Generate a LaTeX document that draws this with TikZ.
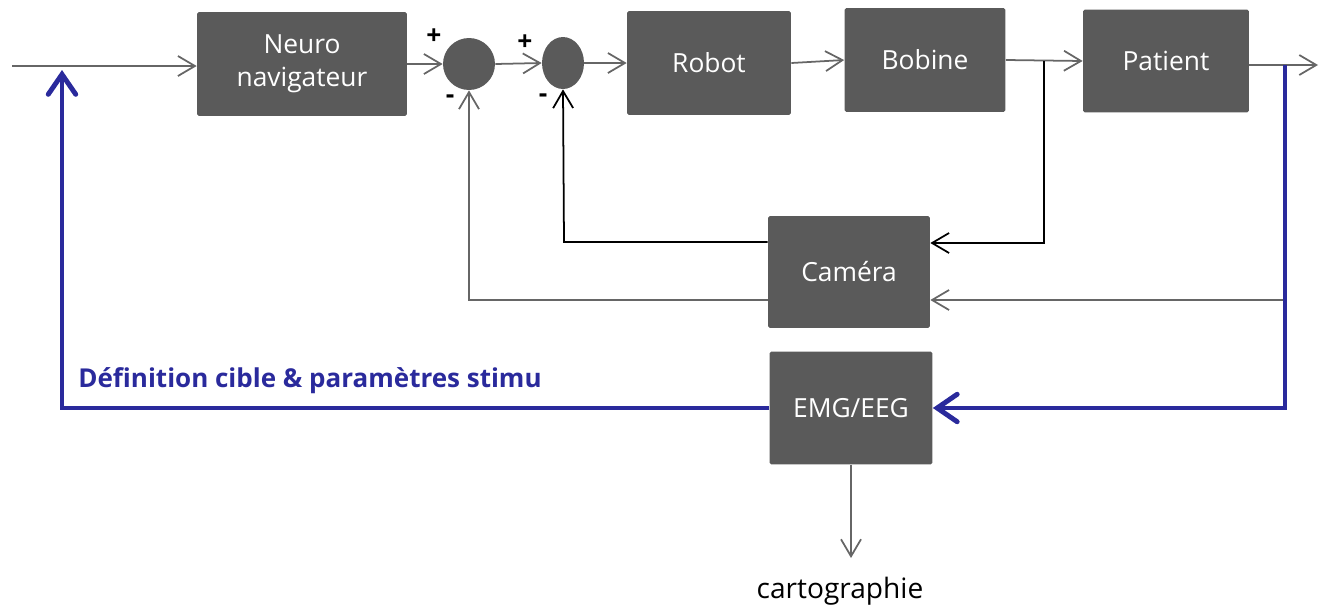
\documentclass[tikz,border=0pt]{standalone}
\usepackage{fontspec}
\setmainfont{Open Sans}
\usetikzlibrary{arrows.meta}
\usetikzlibrary{shapes.geometric}
\definecolor{blocgris}{HTML}{5A5A5A}
\definecolor{traitgris}{HTML}{666666}
\definecolor{stimbleu}{HTML}{2A2A9C}

\begin{document}
\begin{tikzpicture}[x=0.02cm, y=-0.02cm,
    bloc/.style={fill=blocgris, text=white, rounded corners=1pt, align=center, inner sep=0pt, font=\fontsize{15}{19}\selectfont},
    somme/.style={ellipse, fill=blocgris, inner sep=0pt},
    signe/.style={font=\fontsize{15}{15}\selectfont\bfseries},
    fleche/.style={traitgris, line width=1pt, -{Straight Barb[length=3.4mm, width=4mm]}},
    retour/.style={black, line width=1pt, -{Straight Barb[length=3.4mm, width=4mm]}},
    stimu/.style={stimbleu, line width=2.8pt, -{Straight Barb[length=4mm, width=5.5mm, line cap=round]}}]
    \useasboundingbox (0,0) rectangle (1319,606);

    \node[bloc, minimum width=4.2cm, minimum height=2.08cm] (neuro) at (302,64) {Neuro\\navigateur};
    \node[somme, minimum width=1.04cm, minimum height=1.04cm] (s1) at (469,64) {};
    \node[somme, minimum width=0.84cm, minimum height=1.04cm] (s2) at (563,63) {};
    \node[bloc, minimum width=3.28cm, minimum height=2.08cm] (robot) at (709,63) {Robot};
    \node[bloc, minimum width=3.22cm, minimum height=2.08cm] (bobine) at (925,60) {Bobine};
    \node[bloc, minimum width=3.32cm, minimum height=2.06cm] (patient) at (1166,61) {Patient};
    \node[bloc, minimum width=3.24cm, minimum height=2.24cm] (camera) at (849,272) {Caméra};
    \node[bloc, minimum width=3.26cm, minimum height=2.26cm] (emg) at (851,408) {EMG/EEG};

    \node[signe] (plus1) at (434,37) {+};
    \node[signe] (moins1) at (450,99) {-};
    \node[signe] (plus2) at (525,43) {+};
    \node[signe] (moins2) at (543,98) {-};

    \coordinate (entree) at (12,66);
    \coordinate (branche) at (1044,61);
    \coordinate (coude) at (1044,243);
    \coordinate (noir) at (564,242);
    \coordinate (sortie) at (1285,65);
    \coordinate (fin) at (1318,65);
    \coordinate (gris) at (1285,300);
    \coordinate (gris2) at (469,300);
    \coordinate (cible) at (62,70);
    \coordinate (carto) at (851,558);

    \draw[fleche] (entree) -- (neuro.west |- entree);
    \draw[fleche] (neuro.east) -- (s1.west);
    \draw[fleche] (s1.east) -- (s2.west);
    \draw[fleche] (s2.east) -- (robot.west);
    \draw[fleche] (robot.east) -- (bobine.west);
    \draw[fleche] (bobine.east) -- (patient.west);
    \draw[fleche] (patient.east |- sortie) -- (fin);

    \draw[retour] (branche) -- (coude) -- (camera.east |- coude);
    \draw[retour] (camera.west |- noir) -- (noir) -- (s2.south);
    \draw[fleche] (gris) -- (camera.east |- gris);
    \draw[fleche] (camera.west |- gris2) -- (gris2) -- (s1.south);

    \draw[stimu] (sortie) -- (sortie |- emg.east) -- (emg.east);
    \draw[stimu] (emg.west) -- (emg.west -| cible) -- (cible);
    \node[stimbleu, font=\fontsize{14.8}{18}\selectfont\bfseries, anchor=west, inner sep=0pt] (definition) at (78,381) {Définition cible \& paramètres stimu};

    \draw[fleche] (emg.south) -- (carto);
    \node[font=\fontsize{16}{19}\selectfont] (cartographie) at (840,591) {cartographie};
\end{tikzpicture}
\end{document}
